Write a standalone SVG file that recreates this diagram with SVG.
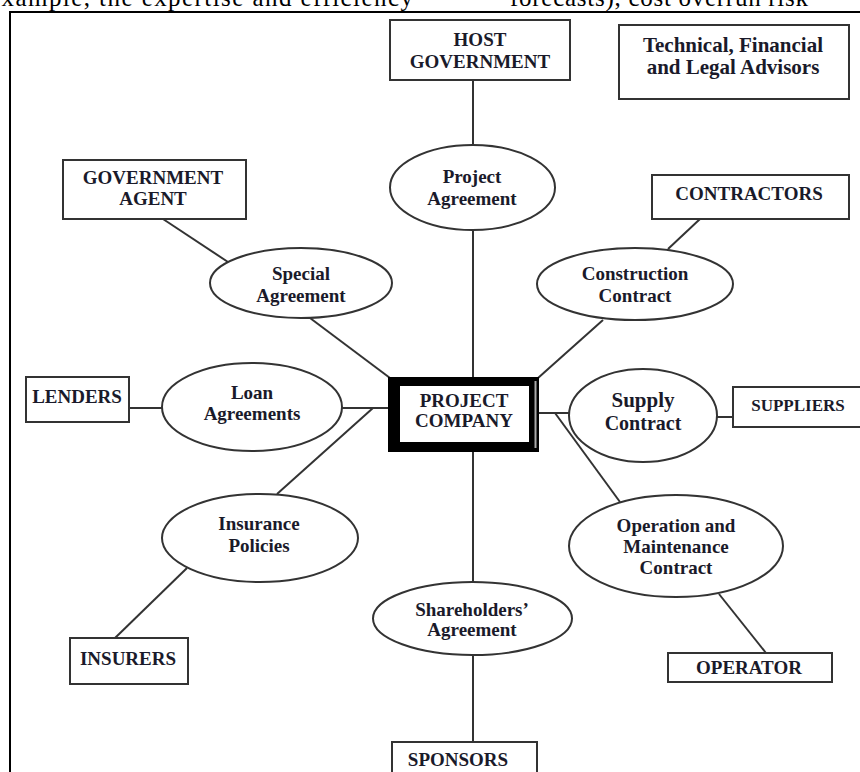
<svg xmlns="http://www.w3.org/2000/svg" width="860" height="772" viewBox="0 0 860 772">
<style>
.box{fill:#fff;stroke:#333;stroke-width:2}
.ell{fill:#fff;stroke:#333;stroke-width:2}
.con{stroke:#333;stroke-width:2;fill:none}
.t{font-family:"Liberation Serif","Times New Roman",serif;font-weight:bold;font-size:19px;fill:#1a1a2a;text-anchor:middle}
.body{font-family:"Liberation Serif","Times New Roman",serif;font-size:25px;fill:#000}
</style>
<rect x="0" y="0" width="860" height="772" fill="#fff"/>
<text class="body" x="-11" y="6" textLength="424" lengthAdjust="spacing">example, the expertise and efficiency</text>
<text class="body" x="510" y="6" textLength="298" lengthAdjust="spacing">forecasts), cost overrun risk</text>
<path d="M10,772 V12 H860" fill="none" stroke="#000" stroke-width="2"/>
<g id="connectors" class="con">
<line x1="473" y1="80" x2="473" y2="145"/>
<line x1="473" y1="230" x2="473" y2="377"/>
<line x1="163" y1="219" x2="228" y2="262"/>
<line x1="310" y1="318" x2="390" y2="378"/>
<line x1="700" y1="219" x2="668" y2="249"/>
<line x1="603" y1="320" x2="538" y2="378"/>
<line x1="129" y1="408" x2="162" y2="408"/>
<line x1="342" y1="408" x2="388" y2="408"/>
<line x1="373" y1="408" x2="277" y2="494"/>
<line x1="187" y1="568" x2="115" y2="638"/>
<line x1="539" y1="413" x2="569" y2="413"/>
<line x1="717" y1="417" x2="733" y2="417"/>
<line x1="555" y1="413" x2="620" y2="502"/>
<line x1="719" y1="594" x2="766" y2="653"/>
<line x1="473" y1="452" x2="473" y2="582"/>
<line x1="473" y1="655" x2="473" y2="742"/>
</g>
<g id="host-government">
<rect class="box" x="390" y="20" width="180" height="60"/>
<text class="t" x="480" y="46">HOST</text>
<text class="t" x="480" y="68">GOVERNMENT</text>
</g>
<g id="advisors">
<rect class="box" x="619" y="25" width="230" height="74"/>
<text class="t" x="733" y="52" style="font-size:21px">Technical, Financial</text>
<text class="t" x="733" y="74" style="font-size:21px">and Legal Advisors</text>
</g>
<g id="government-agent">
<rect class="box" x="63" y="160" width="183" height="59"/>
<text class="t" x="153" y="184">GOVERNMENT</text>
<text class="t" x="153" y="205">AGENT</text>
</g>
<g id="project-agreement">
<ellipse class="ell" cx="472.5" cy="187.5" rx="82.5" ry="42.5"/>
<text class="t" x="472" y="183">Project</text>
<text class="t" x="472" y="205">Agreement</text>
</g>
<g id="contractors">
<rect class="box" x="652" y="175" width="197" height="44"/>
<text class="t" x="749" y="200">CONTRACTORS</text>
</g>
<g id="special-agreement">
<ellipse class="ell" cx="301" cy="283" rx="91" ry="35"/>
<text class="t" x="301" y="280">Special</text>
<text class="t" x="301" y="302">Agreement</text>
</g>
<g id="construction-contract">
<ellipse class="ell" cx="635" cy="284" rx="98" ry="36"/>
<text class="t" x="635" y="280">Construction</text>
<text class="t" x="635" y="302">Contract</text>
</g>
<g id="lenders">
<rect class="box" x="26" y="377" width="103" height="45"/>
<text class="t" x="77" y="403">LENDERS</text>
</g>
<g id="loan-agreements">
<ellipse class="ell" cx="252" cy="407" rx="90" ry="44"/>
<text class="t" x="252" y="399">Loan</text>
<text class="t" x="252" y="420">Agreements</text>
</g>
<g id="project-company">
<rect x="388" y="377" width="151" height="75" fill="#000"/>
<rect x="400" y="386" width="129" height="56" fill="#fff"/>
<line x1="535.5" y1="381" x2="535.5" y2="448" stroke="#aaa" stroke-width="2"/>
<text class="t" x="464" y="407">PROJECT</text>
<text class="t" x="464" y="427">COMPANY</text>
</g>
<g id="supply-contract">
<ellipse class="ell" cx="643" cy="415.5" rx="74" ry="46.5"/>
<text class="t" x="643" y="407" style="font-size:21px">Supply</text>
<text class="t" x="643" y="430" style="font-size:20px">Contract</text>
</g>
<g id="suppliers">
<rect class="box" x="733" y="387" width="140" height="40"/>
<text class="t" x="798" y="411" style="font-size:17px">SUPPLIERS</text>
</g>
<g id="insurance-policies">
<ellipse class="ell" cx="260" cy="538" rx="98" ry="44"/>
<text class="t" x="259" y="530">Insurance</text>
<text class="t" x="259" y="552">Policies</text>
</g>
<g id="operation-maintenance">
<ellipse class="ell" cx="676" cy="546" rx="107" ry="51"/>
<text class="t" x="676" y="532">Operation and</text>
<text class="t" x="676" y="553">Maintenance</text>
<text class="t" x="676" y="574">Contract</text>
</g>
<g id="shareholders-agreement">
<ellipse class="ell" cx="472.5" cy="618.5" rx="99.5" ry="36.5"/>
<text class="t" x="472" y="616">Shareholders’</text>
<text class="t" x="472" y="636">Agreement</text>
</g>
<g id="insurers">
<rect class="box" x="70" y="638" width="118" height="46"/>
<text class="t" x="128" y="665">INSURERS</text>
</g>
<g id="operator">
<rect class="box" x="668" y="653" width="164" height="29"/>
<text class="t" x="749" y="674">OPERATOR</text>
</g>
<g id="sponsors">
<rect class="box" x="392" y="742" width="145" height="40"/>
<text class="t" x="458" y="766">SPONSORS</text>
</g>
</svg>
